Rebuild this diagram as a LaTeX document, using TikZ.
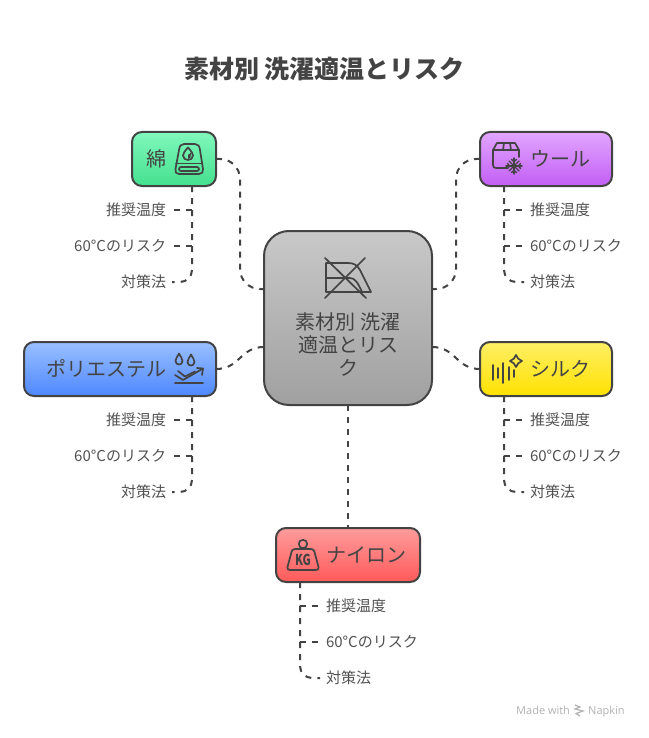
\documentclass[tikz,border=0pt]{standalone}
\usepackage{fontspec}
\setmainfont{Noto Sans CJK JP}
\newfontfamily\wmfont{Open Sans}
\usetikzlibrary{calc}
\definecolor{ink}{HTML}{434343}
\definecolor{cotA}{HTML}{80F8BC}\definecolor{cotB}{HTML}{44E08E}
\definecolor{wooA}{HTML}{E2A6FF}\definecolor{wooB}{HTML}{C25EF5}
\definecolor{polA}{HTML}{9ABFFF}\definecolor{polB}{HTML}{4D88FF}
\definecolor{silA}{HTML}{FFEF66}\definecolor{silB}{HTML}{FFE100}
\definecolor{nylA}{HTML}{FF9C9C}\definecolor{nylB}{HTML}{FF5A5A}
\definecolor{cenA}{HTML}{C8C8C8}\definecolor{cenB}{HTML}{A0A0A0}
\tikzset{
  x=1pt,y=-1pt,
  box/.style={draw=ink,line width=2pt,rounded corners=10pt,inner sep=0pt},
  conn/.style={draw=ink,line width=2pt,dash pattern=on 6pt off 6pt},
  lab/.style={font=\fontsize{15pt}{18pt}\selectfont,text=ink!92,inner sep=0pt,outer sep=6pt},
  name text/.style={font=\fontsize{20pt}{23pt}\selectfont,text=ink,inner sep=0pt},
  ic/.style={draw=ink,line width=1.7pt,line join=round,line cap=round},
  mark text/.style={font=\wmfont\fontsize{11pt}{12pt}\selectfont,text=black!30,anchor=base west,inner sep=0pt},
}
% prefix, trunk x, box bottom y, label anchor, label x offset
\newcommand{\branchset}[5]{%
  \coordinate (#1T) at (#2,#3);
  \node[lab,anchor=#4] (#1a) at (#2+#5,#3+24) {推奨温度};
  \node[lab,anchor=#4] (#1b) at (#2+#5,#3+60) {60°Cのリスク};
  \node[lab,anchor=#4] (#1c) at (#2+#5,#3+96) {対策法};
  \draw[conn] (#1T) |- (#1a.#4);
  \draw[conn] (#1T) |- (#1b.#4);
  \draw[conn,rounded corners=12pt] (#1T) |- (#1c.#4);
}
\begin{document}
\begin{tikzpicture}
\useasboundingbox (0,0) rectangle (648,738);
\fill[white] (0,0) rectangle (648,738);
\node[font=\fontsize{25pt}{28pt}\selectfont\bfseries,text=ink,inner sep=0pt] (title) at (324.5,68.7) {素材別 洗濯適温とリスク};

% connectors
\coordinate (cL1) at (264,289);
\coordinate (cL2) at (264,347);
\coordinate (cR1) at (432,289);
\coordinate (cR2) at (432,347);
\coordinate (cottonE) at (216,159);
\coordinate (woolW) at (480,159);
\coordinate (polyE) at (216,369);
\coordinate (silkW) at (480,369);
\draw[conn,rounded corners=20pt] (cottonE) -- (240,159) -- (240,289) -- (cL1);
\draw[conn,rounded corners=20pt] (woolW) -- (456,159) -- (456,289) -- (cR1);
\draw[conn] (polyE) .. controls (240,369) and (240,347) .. (cL2);
\draw[conn] (silkW) .. controls (456,369) and (456,347) .. (cR2);
\coordinate (cS) at (348,405);
\coordinate (nN) at (348,528);
\draw[conn] (cS) -- (nN);

\branchset{co}{192}{186}{east}{-20}
\branchset{wo}{504}{186}{west}{20}
\branchset{po}{192}{396}{east}{-20}
\branchset{si}{504}{396}{west}{20}
\branchset{ny}{300}{582}{west}{20}

% boxes
\node[box,rounded corners=25pt,top color=cenA,bottom color=cenB,minimum width=168pt,minimum height=174pt] (center) at (348,318) {};
\node[box,top color=cotA,bottom color=cotB,minimum width=84pt,minimum height=54pt] (cotton) at (174,159) {};
\node[box,top color=wooA,bottom color=wooB,minimum width=132pt,minimum height=54pt] (wool) at (546,159) {};
\node[box,top color=polA,bottom color=polB,minimum width=192pt,minimum height=54pt] (poly) at (120,369) {};
\node[box,top color=silA,bottom color=silB,minimum width=132pt,minimum height=54pt] (silk) at (546,369) {};
\node[box,top color=nylA,bottom color=nylB,minimum width=144pt,minimum height=54pt] (nylon) at (348,555) {};

% box labels
\node[name text] (centerT1) at (348,321.5) {素材別 洗濯};
\node[name text] (centerT2) at (348,344.5) {適温とリス};
\node[name text] (centerT3) at (348,367.5) {ク};
\node[name text] (cottonT) at (156.5,158.7) {綿};
\node[name text,anchor=west] (woolT) at (530,158.7) {ウール};
\node[name text,anchor=west] (polyT) at (46,368.7) {ポリエステル};
\node[name text,anchor=west] (silkT) at (530,368.7) {シルク};
\node[name text,anchor=west] (nylonT) at (326,555.2) {ナイロン};

% centre icon
\begin{scope}[ic]
  \draw (326,263) -- (348,263) .. controls (354,263) and (357,265) .. (360,270) -- (371,292) -- (326,292) -- cycle;
  \draw (326,278) -- (350,278) .. controls (355,278) and (358,283) .. (362,292);
  \draw (325,258) -- (366,298);
  \draw (365,258) -- (325,298);
\end{scope}

% cotton icon
\begin{scope}[ic]
  \draw (179,150) .. controls (179.5,146) and (181,144) .. (184,144) -- (195,144) .. controls (198,144) and (199.5,146) .. (200,150) -- (203,169) .. controls (203.5,172) and (202,174) .. (199,174) -- (179,174) .. controls (176,174) and (175,172) .. (175.5,169) -- cycle;
  \draw (176,163.5) -- (202.5,163.5);
  \draw[rounded corners=2pt] (179,167) rectangle (199,171);
  \draw (188,147.5) .. controls (191,151) and (193,153) .. (193,155.5) .. controls (193,158.5) and (190.5,160) .. (188,160) .. controls (185.5,160) and (183,158.5) .. (183,155.5) .. controls (183,153) and (185,151) .. (188,147.5) -- cycle;
  \fill[ink] (188,155) -- (191,152.5) -- (190.5,157.5) -- (188,159) -- cycle;
\end{scope}

% wool icon
\begin{scope}[ic]
  \draw (507,168) -- (496,168) .. controls (494,168) and (493,167) .. (493,165) -- (493,150) -- (497,143) -- (515,143) -- (519,150) -- (519,157);
  \draw (493,150) -- (519,150);
  \draw (504,143) -- (503,150);
  \draw (510,143) -- (511,150);
\end{scope}
\begin{scope}[ic,line width=1.4pt]
  \draw (514,158) -- (514,174);
  \draw (506,166) -- (522,166);
  \draw (509,161) -- (519,171);
  \draw (519,161) -- (509,171);
  \draw (511.5,159.5) -- (514,161.5) -- (516.5,159.5);
  \draw (511.5,172.5) -- (514,170.5) -- (516.5,172.5);
  \draw (507.5,163.5) -- (509.5,166) -- (507.5,168.5);
  \draw (520.5,163.5) -- (518.5,166) -- (520.5,168.5);
\end{scope}

% polyester icon
\begin{scope}[ic]
  \foreach \cx/\cy in {179/360,191/361}{
    \draw (\cx,\cy-6.5) .. controls (\cx+1.5,\cy-3) and (\cx+3.5,\cy-2) .. (\cx+3.5,\cy+1) .. controls (\cx+3.5,\cy+3.5) and (\cx+1.5,\cy+4.5) .. (\cx,\cy+4.5) .. controls (\cx-1.5,\cy+4.5) and (\cx-3.5,\cy+3.5) .. (\cx-3.5,\cy+1) .. controls (\cx-3.5,\cy-2) and (\cx-1.5,\cy-3) .. (\cx,\cy-6.5) -- cycle;
  }
  \draw (175,383) -- (203,383);
  \draw (175,375) -- (183,380) -- (203,368.5);
  \draw (178,371) -- (185,376.5) -- (195,371.5);
  \draw (197,368) -- (203,368.5) -- (202,375);
\end{scope}

% silk icon
\begin{scope}[ic]
  \draw (493,365) -- (493,380);
  \draw (498,368) -- (498,378);
  \draw (503,363) -- (503,383);
  \draw (509,367) -- (509,380);
  \draw (514,370) -- (514,377);
  \draw (516,355) .. controls (517,358) and (519,360) .. (522,361) .. controls (519,362) and (517,364) .. (516,367) .. controls (515,364) and (513,362) .. (510,361) .. controls (513,360) and (515,358) .. (516,355) -- cycle;
\end{scope}

% nylon icon
\begin{scope}[ic]
  \draw (303,544) circle (4.2);
  \draw (295,549) -- (311,549) .. controls (313,549) and (314,550) .. (314.5,552) -- (318.5,567) .. controls (319,569) and (318,570) .. (316,570) -- (290,570) .. controls (288,570) and (287,569) .. (287.5,567) -- (291.5,552) .. controls (292,550) and (293,549) .. (295,549) -- cycle;
\end{scope}
\node[font=\fontsize{15pt}{15pt}\selectfont\bfseries,text=ink,inner sep=0pt,xscale=0.75] (kg) at (303,559.5) {KG};

% watermark
\node[mark text] (madewith) at (516,714.5) {Made with};
\node[mark text] (napkin) at (588,714.5) {Napkin};
\draw[black!30,line width=1.2pt] (575,705) -- (580,707) -- (575,709) -- (583,711) -- (576,713.5) -- (580,716);
\end{tikzpicture}
\end{document}
